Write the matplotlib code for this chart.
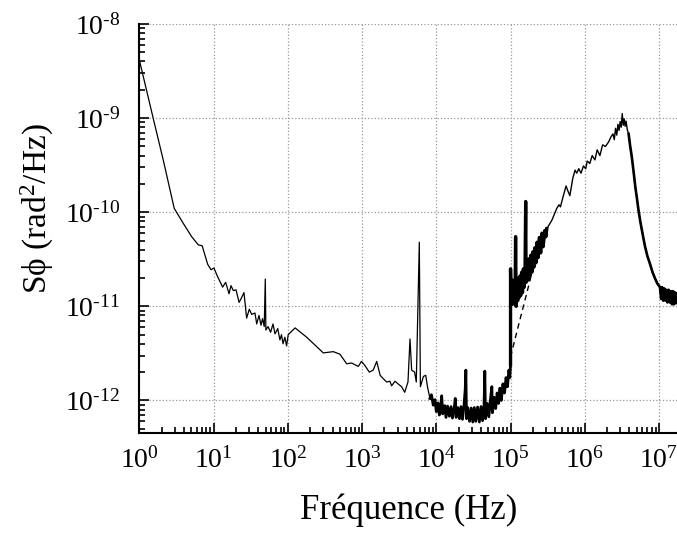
import matplotlib
matplotlib.use("Agg")
import matplotlib.pyplot as plt
from matplotlib.ticker import FixedLocator, LogLocator, NullFormatter, FuncFormatter
import numpy as np

plt.rcParams['font.family'] = ['Liberation Serif', 'DejaVu Serif']
plt.rcParams['mathtext.fontset'] = 'custom'
plt.rcParams['mathtext.rm'] = 'Liberation Serif'
plt.rcParams['mathtext.it'] = 'Liberation Serif:italic'
plt.rcParams['axes.unicode_minus'] = False

# tick positions
x_ticks = [1e0, 1e1, 1e2, 1e3, 1e4, 1e5, 1e6, 1e7]
y_ticks = [1e-12, 1e-11, 1e-10, 1e-9, 1e-8]

# low frequency part, 1 Hz .. 8 kHz
f_low = [1, 1.53, 2.09, 2.94, 3.9, 5.05, 6.2, 7.0, 8.3, 9.2, 10.1, 11.2, 13.2, 14.5,
         16.1, 17.1, 18.4, 20, 22, 23.8, 25.6, 27.8, 30.2, 32.6, 36, 38, 40.8, 43.4,
         45.5, 48, 49.6, 50.5, 54, 58.5, 63, 67, 73, 78, 82, 86, 91, 96, 101, 125,
         179, 300, 409, 503, 620, 720, 889, 980, 1090, 1250, 1410, 1574, 1750, 1930,
         2150, 2370, 2500, 2770, 3050, 3400, 3750, 4150, 4420, 4650, 5100, 5370, 5900,
         6100, 6700, 7200, 7600, 8200]
s_low = [4.1e-9, 1.0e-9, 3.6e-10, 1.1e-10, 7.6e-11, 5.5e-11, 4.5e-11, 4.4e-11, 2.8e-11,
         2.45e-11, 2.55e-11, 2.1e-11, 1.6e-11, 1.8e-11, 1.36e-11, 1.66e-11, 1.47e-11,
         1.5e-11, 1.1e-11, 1.24e-11, 1.4e-11, 7.5e-12, 9.3e-12, 8.2e-12, 8.5e-12, 6.5e-12,
         8.0e-12, 6.3e-12, 7.4e-12, 6.1e-12, 1.95e-11, 5.6e-12, 6.1e-12, 5.3e-12, 6.5e-12,
         5.1e-12, 5.8e-12, 4.4e-12, 5.0e-12, 4.0e-12, 4.7e-12, 3.8e-12, 5.0e-12, 5.9e-12,
         4.7e-12, 3.2e-12, 3.3e-12, 3.1e-12, 2.45e-12, 2.5e-12, 2.3e-12, 2.6e-12, 2.35e-12,
         2.0e-12, 2.1e-12, 2.6e-12, 1.85e-12, 1.7e-12, 1.57e-12, 1.6e-12, 1.43e-12, 1.6e-12,
         1.5e-12, 1.4e-12, 1.22e-12, 1.57e-12, 4.5e-12, 2.1e-12, 2.0e-12, 1.57e-12, 4.8e-11,
         1.4e-12, 1.8e-12, 1.85e-12, 1.4e-12, 1.05e-12]

# noise floor, 8 kHz .. 100 kHz
f_floor = [8.2e3, 8.6e3, 9.1e3, 9.6e3, 1.0e4, 1.05e4, 1.1e4, 1.15e4, 1.18e4, 1.22e4,
           1.3e4, 1.35e4, 1.42e4, 1.5e4, 1.58e4, 1.65e4, 1.75e4, 1.8e4, 1.85e4, 1.95e4,
           2.05e4, 2.15e4, 2.25e4, 2.35e4, 2.45e4, 2.5e4, 2.55e4, 2.65e4, 2.8e4, 2.95e4,
           3.1e4, 3.25e4, 3.4e4, 3.6e4, 3.8e4, 4.0e4, 4.2e4, 4.4e4, 4.5e4, 4.6e4, 4.85e4,
           5.1e4, 5.35e4, 5.6e4, 5.7e4, 6.0e4, 6.3e4, 6.6e4, 6.9e4, 7.2e4, 7.5e4, 7.9e4,
           8.3e4, 8.7e4, 9.1e4, 9.5e4, 9.8e4, 1.0e5]
s_floor = [1.05e-12, 1.15e-12, 8.9e-13, 1.02e-12, 7.6e-13, 9.4e-13, 7.0e-13, 9.0e-13,
           1.12e-12, 7.2e-13, 8.8e-13, 6.6e-13, 8.7e-13, 6.8e-13, 8.6e-13, 6.5e-13, 8.5e-13,
           1.05e-12, 6.6e-13, 8.4e-13, 6.4e-13, 8.6e-13, 6.3e-13, 8.5e-13, 1.3e-12, 2.1e-12,
           6.4e-13, 8.4e-13, 6.0e-13, 8.3e-13, 5.9e-13, 8.4e-13, 6.0e-13, 8.5e-13, 5.9e-13,
           8.6e-13, 6.1e-13, 9.0e-13, 2.05e-12, 6.4e-13, 9.3e-13, 6.7e-13, 1.0e-12, 1.4e-12,
           7.4e-13, 1.08e-12, 8.2e-13, 1.2e-12, 9.3e-13, 1.35e-12, 1.0e-12, 1.5e-12, 1.2e-12,
           1.75e-12, 1.4e-12, 2.1e-12, 1.75e-12, 2.4e-12]

# noisy band 100 kHz .. 310 kHz
f_mid = [1.0e5, 1.02e5, 1.04e5, 1.06e5, 1.08e5, 1.1e5, 1.13e5, 1.15e5, 1.17e5, 1.19e5,
         1.22e5, 1.25e5, 1.28e5, 1.31e5, 1.34e5, 1.37e5, 1.41e5, 1.45e5, 1.49e5, 1.53e5,
         1.57e5, 1.6e5, 1.62e5, 1.67e5, 1.72e5, 1.77e5, 1.82e5, 1.88e5, 1.94e5, 2.0e5,
         2.06e5, 2.13e5, 2.2e5, 2.28e5, 2.36e5, 2.45e5, 2.55e5, 2.65e5, 2.75e5, 2.9e5,
         3.0e5, 3.08e5]
s_mid = [2.5e-11, 1.1e-11, 1.9e-11, 1.05e-11, 1.85e-11, 1.1e-11, 1.9e-11, 1.2e-11, 5.5e-11,
         1.0e-11, 1.9e-11, 1.15e-11, 2.0e-11, 1.25e-11, 2.1e-11, 1.3e-11, 2.3e-11, 1.4e-11,
         2.5e-11, 1.6e-11, 2.7e-11, 1.3e-10, 1.8e-11, 3.0e-11, 1.9e-11, 3.2e-11, 2.1e-11,
         3.5e-11, 2.3e-11, 3.8e-11, 2.6e-11, 4.2e-11, 2.9e-11, 4.8e-11, 3.3e-11, 5.4e-11,
         3.7e-11, 6.0e-11, 4.3e-11, 6.4e-11, 5.5e-11, 6.7e-11]

# resonance, 310 kHz .. 18 MHz
f_high = [3.08e5, 3.6e5, 4.2e5, 4.5e5, 4.7e5, 5.15e5, 5.6e5, 5.9e5, 6.3e5, 6.9e5, 7.4e5,
          7.8e5, 8.3e5, 8.9e5, 9.6e5, 1.03e6, 1.08e6, 1.17e6, 1.26e6, 1.37e6, 1.47e6,
          1.6e6, 1.74e6, 1.9e6, 2.1e6, 2.25e6, 2.4e6, 2.5e6, 2.6e6, 2.7e6, 2.8e6, 2.9e6,
          3.0e6, 3.1e6, 3.2e6, 3.3e6, 3.4e6, 3.5e6, 3.6e6, 3.75e6, 3.9e6, 4.1e6, 4.3e6,
          4.55e6, 4.8e6, 5.05e6, 5.3e6, 5.6e6, 5.9e6, 6.2e6, 6.5e6, 7.0e6, 7.6e6, 8.2e6,
          8.8e6, 9.5e6, 1.03e7, 1.07e7, 1.1e7, 1.14e7, 1.18e7, 1.22e7, 1.26e7, 1.3e7,
          1.35e7, 1.4e7, 1.45e7, 1.5e7, 1.55e7, 1.6e7, 1.66e7, 1.72e7, 1.78e7]
s_high = [6.7e-11, 8.2e-11, 1.1e-10, 1.2e-10, 1.14e-10, 1.5e-10, 1.9e-10, 1.7e-10, 1.5e-10,
          2.3e-10, 2.8e-10, 2.6e-10, 2.9e-10, 2.6e-10, 3.1e-10, 2.9e-10, 3.5e-10, 3.3e-10,
          4.0e-10, 3.6e-10, 4.6e-10, 4.0e-10, 5.2e-10, 5.0e-10, 5.6e-10, 6.3e-10, 6.8e-10,
          5.9e-10, 7.8e-10, 6.6e-10, 8.6e-10, 7.4e-10, 9.2e-10, 8.0e-10, 1.12e-9, 8.4e-10,
          9.8e-10, 8.2e-10, 9.3e-10, 7.5e-10, 6.8e-10, 5.0e-10, 3.9e-10, 2.7e-10, 1.86e-10,
          1.4e-10, 1.05e-10, 8.0e-11, 6.4e-11, 5.2e-11, 4.3e-11, 3.4e-11, 2.8e-11, 2.3e-11,
          2.0e-11, 1.75e-11, 1.6e-11, 1.2e-11, 1.6e-11, 1.15e-11, 1.55e-11, 1.15e-11, 1.5e-11,
          1.1e-11, 1.5e-11, 1.1e-11, 1.45e-11, 1.05e-11, 1.45e-11, 1.05e-11, 1.4e-11,
          1.08e-11, 1.35e-11]

# dashed extrapolation under the 100 kHz band
f_dash = [1.0e5, 1.3e5, 1.7e5, 2.2e5]
s_dash = [2.9e-12, 6.6e-12, 1.5e-11, 3.4e-11]

fig = plt.figure(figsize=(6.77, 5.34), dpi=100)
ax = fig.add_axes([0.206, 0.189, 0.794, 0.766])

ax.plot(f_low, s_low, color='black', lw=0.9)
ax.plot([f_low[-1]] + f_floor, [s_low[-1]] + s_floor, color='black', lw=2.0)
ax.plot([f_floor[-1]] + f_mid, [s_floor[-1]] + s_mid, color='black', lw=2.4)
ax.plot(f_high, s_high, color='black', lw=1.0)
ax.plot(f_high[40:], s_high[40:], color='black', lw=1.9)
ax.plot(f_dash, s_dash, color='black', lw=1.0, ls=(0, (4, 3)))

ax.set_xscale('log')
ax.set_yscale('log')
ax.set_xlim(1, 1.75e7)
ax.set_ylim(4.5e-13, 1e-8)


def pow10(v, pos):
    e = int(round(np.log10(v)))
    return '10$^{%s}$' % str(e).replace('-', '\u2010')


ax.xaxis.set_major_locator(FixedLocator(x_ticks))
ax.xaxis.set_minor_locator(LogLocator(base=10, subs=range(2, 10), numticks=20))
ax.xaxis.set_major_formatter(FuncFormatter(pow10))
ax.xaxis.set_minor_formatter(NullFormatter())
ax.yaxis.set_major_locator(FixedLocator(y_ticks))
ax.yaxis.set_minor_locator(LogLocator(base=10, subs=range(2, 10), numticks=20))
ax.yaxis.set_major_formatter(FuncFormatter(pow10))
ax.yaxis.set_minor_formatter(NullFormatter())

ax.grid(True, which='major', ls=':', color='#999999', lw=0.9)
ax.tick_params(which='both', direction='in', labelsize=20, width=1.2)
ax.tick_params(which='major', length=7)
ax.tick_params(which='minor', length=4)
ax.tick_params(axis='x', pad=10)
ax.tick_params(axis='y', pad=14)

for side in ['top', 'right']:
    ax.spines[side].set_visible(False)
for side in ['left', 'bottom']:
    ax.spines[side].set_linewidth(1.5)

ax.set_xlabel('Fréquence (Hz)', fontsize=25)
ax.set_ylabel('S\u03d5 (rad$^{2}$/Hz)', fontsize=24)
ax.xaxis.set_label_coords(0.50, -0.147)
ax.yaxis.set_label_coords(-0.155, 0.548)

fig.savefig('out.png', dpi=100)
